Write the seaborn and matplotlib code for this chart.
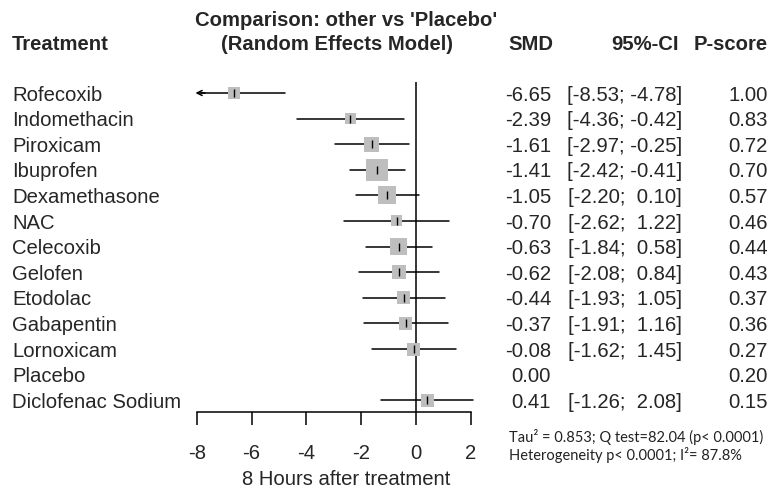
import numpy as np
import pandas as pd
import matplotlib
matplotlib.use("Agg")
import matplotlib.pyplot as plt
import matplotlib.transforms as mtransforms
import seaborn as sns

# ---- data ----
treatments = ["Rofecoxib", "Indomethacin", "Piroxicam", "Ibuprofen", "Dexamethasone",
              "NAC", "Celecoxib", "Gelofen", "Etodolac", "Gabapentin", "Lornoxicam",
              "Placebo", "Diclofenac Sodium"]
smd = [-6.65, -2.39, -1.61, -1.41, -1.05, -0.70, -0.63, -0.62, -0.44, -0.37, -0.08, 0.00, 0.41]
ci_lower = [-8.53, -4.36, -2.97, -2.42, -2.20, -2.62, -1.84, -2.08, -1.93, -1.91, -1.62, np.nan, -1.26]
ci_upper = [-4.78, -0.42, -0.25, -0.41, 0.10, 1.22, 0.58, 0.84, 1.05, 1.16, 1.45, np.nan, 2.08]
p_score = [1.00, 0.83, 0.72, 0.70, 0.57, 0.46, 0.44, 0.43, 0.37, 0.36, 0.27, 0.20, 0.15]
box_weight = [12, 11, 15, 22, 18, 11, 17, 14, 13, 13, 13, np.nan, 13]
x_ticks = [-8, -6, -4, -2, 0, 2]
x_label = "8 Hours after treatment"
title_lines = ["Comparison: other vs 'Placebo'", "(Random Effects Model)"]
footnote = ["Tau\u00b2 = 0.853; Q test=82.04 (p< 0.0001)",
            "Heterogeneity p< 0.0001; I\u00b2= 87.8%"]

sns.set_theme(style="white")
plt.rcParams["font.family"] = ["Liberation Sans", "DejaVu Sans"]

W, H = 773, 490
fig = plt.figure(figsize=(W / 100, H / 100), dpi=100)
ax = fig.add_axes([0.2404, 0.1592, 0.3828, 0.6735])

n = len(treatments)
rows = np.arange(n)
df = pd.DataFrame({"treat": treatments, "smd": smd, "lo": ci_lower, "hi": ci_upper,
                   "p": p_score, "w": box_weight, "row": rows})
df["area"] = (df["w"] * 0.72) ** 2

xmin_lim, xmax_lim = -8.4, 2.4
ax.set_xlim(xmin_lim, xmax_lim)
ax.set_ylim(12.46, -0.43)

# zero line
ax.axvline(0, color="black", lw=1.1, zorder=1)

# CI lines
for _, r in df.dropna(subset=["lo"]).iterrows():
    lo, hi = r["lo"], r["hi"]
    if lo < x_ticks[0]:
        ax.plot([x_ticks[0] + 0.15, hi], [r["row"], r["row"]], color="black", lw=1.1, zorder=2)
        ax.annotate("", xy=(x_ticks[0] - 0.05, r["row"]), xytext=(x_ticks[0] + 0.3, r["row"]),
                    arrowprops=dict(arrowstyle="->", color="black", lw=1.1,
                                    mutation_scale=9, shrinkA=0, shrinkB=0))
    else:
        ax.plot([lo, hi], [r["row"], r["row"]], color="black", lw=1.1, zorder=2)

# squares
sq = df.dropna(subset=["w"])
amin, amax = sq["area"].min(), sq["area"].max()
sns.scatterplot(data=sq, x="smd", y="row", size="area", sizes=(amin, amax),
                size_norm=(amin, amax), marker="s", color="#BEBEBE", linewidth=0,
                legend=False, ax=ax, zorder=3)
# point estimate ticks
ax.scatter(sq["smd"], sq["row"], marker="|", s=(5.5) ** 2, color="black",
           linewidths=1.0, zorder=4)

# axis styling
for s in ["top", "right", "left"]:
    ax.spines[s].set_visible(False)
ax.spines["bottom"].set_bounds(x_ticks[0], x_ticks[-1])
ax.spines["bottom"].set_color("black")
ax.spines["bottom"].set_linewidth(1.1)
ax.set_xticks(x_ticks)
ax.set_xticklabels([str(t) for t in x_ticks])
ax.tick_params(axis="x", direction="out", length=9, width=1.1, color="black",
               labelsize=14.6, pad=13.8, bottom=True)
ax.set_yticks([])
ax.set_xlabel("")
ax.set_ylabel("")
ax.patch.set_alpha(0)

# text columns
blend = mtransforms.blended_transform_factory(fig.transFigure, ax.transData)
fs = 14.6
yoff = 0.08
for i in range(n):
    y = rows[i] + yoff
    fig.text(12 / W, y, treatments[i], transform=blend, ha="left", va="center", fontsize=fs)
    fig.text(551 / W, y, f"{smd[i]:.2f}", transform=blend, ha="right", va="center", fontsize=fs)
    if not np.isnan(ci_lower[i]):
        fig.text(682 / W, y, f"[{ci_lower[i]:5.2f}; {ci_upper[i]:5.2f}]", transform=blend,
                 ha="right", va="center", fontsize=fs)
    fig.text(768 / W, y, f"{p_score[i]:.2f}", transform=blend, ha="right", va="center", fontsize=fs)

def fy(py):
    return 1 - py / H

fig.text(346 / W, fy(21), title_lines[0], ha="center", va="center", fontsize=fs, fontweight="bold")
fig.text(337 / W, fy(45), title_lines[1], ha="center", va="center", fontsize=fs, fontweight="bold")
fig.text(12 / W, fy(45), "Treatment", ha="left", va="center", fontsize=fs, fontweight="bold")
fig.text(508 / W, fy(45), "SMD", ha="left", va="center", fontsize=fs, fontweight="bold")
fig.text(679 / W, fy(45), "95%-CI", ha="right", va="center", fontsize=fs, fontweight="bold")
fig.text(768 / W, fy(45), "P-score", ha="right", va="center", fontsize=fs, fontweight="bold")

fig.text(346 / W, fy(479), x_label, ha="center", va="center", fontsize=fs)

fig.text(509 / W, fy(437), footnote[0], ha="left", va="center", fontsize=10.5,
         family=["Lato", "DejaVu Sans"], color="#222222")
fig.text(509 / W, fy(455), footnote[1], ha="left", va="center", fontsize=10.5,
         family=["Lato", "DejaVu Sans"], color="#222222")

fig.savefig("out.png", dpi=100, facecolor="white")
